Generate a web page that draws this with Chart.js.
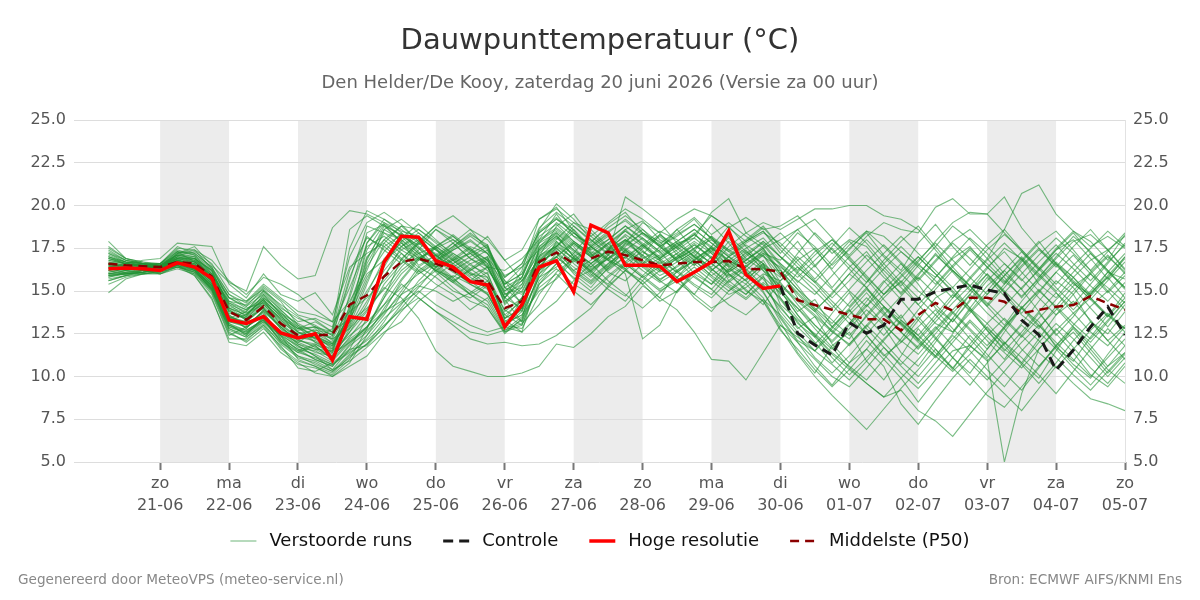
<!DOCTYPE html>
<html lang="nl">
<head>
<meta charset="utf-8">
<title>Dauwpunttemperatuur</title>
<script src="https://cdn.jsdelivr.net/npm/chart.js@4.4.1/dist/chart.umd.min.js"></script>
<style>
    html, body { margin: 0; padding: 0; background: #fff; }
    #wrap { width: 1200px; height: 600px; }
</style>
</head>
<body>
<div id="wrap"><canvas id="dewChart" width="1200" height="600"></canvas></div>
<script>
// tijdstappen in uren t.o.v. zo 21-06 00 uur (elke 6 uur, vanaf za 20-06 06 uur)
const stepHours = [];
for (let h = -18; h <= 336; h += 6) stepHours.push(h);

const dayTicks = [0, 24, 48, 72, 96, 120, 144, 168, 192, 216, 240, 264, 288, 312, 336];
const dayNames = ['zo', 'ma', 'di', 'wo', 'do', 'vr', 'za', 'zo', 'ma', 'di', 'wo', 'do', 'vr', 'za', 'zo'];
const dayDates = ['21-06', '22-06', '23-06', '24-06', '25-06', '26-06', '27-06', '28-06',
    '29-06', '30-06', '01-07', '02-07', '03-07', '04-07', '05-07'];
const shadedDays = [[0, 24], [48, 72], [96, 120], [144, 168], [192, 216], [240, 264], [288, 312]];

const yTicks = [5, 7.5, 10, 12.5, 15, 17.5, 20, 22.5, 25];

// hoge resolutie run (tot di 30-06 00 uur)
const hogeResolutie = [
    16.3, 16.35, 16.3, 16.2, 16.65, 16.4, 15.75, 13.3, 13.1, 13.5,
    12.55, 12.25, 12.5, 10.95, 13.5, 13.35, 16.7, 18.2, 18.15, 16.77,
    16.4, 15.55, 15.35, 12.9, 14.2, 16.4, 16.77, 14.95, 18.85, 18.4,
    16.5, 16.5, 16.45, 15.55, 16.1, 16.7, 18.5, 15.95, 15.15, 15.3
];

// controle run (vanaf di 30-06 00 uur)
const controleStart = 39;
const controle = [
    15.3, 12.53, 11.84, 11.26, 13.15, 12.53, 13.0, 14.52, 14.52, 14.96,
    15.16, 15.35, 15.06, 14.86, 13.3, 12.43, 10.38, 11.55, 12.9, 14.08, 12.43
];

// mediaan van de ensemble
const middelste = [
    16.6, 16.5, 16.45, 16.4, 16.7, 16.6, 15.85, 13.8, 13.3, 14.1,
    13.1, 12.4, 12.4, 12.45, 14.2, 14.75, 15.85, 16.7, 16.9, 16.6,
    16.23, 15.55, 15.6, 14.0, 14.4, 16.7, 17.25, 16.6, 16.9, 17.3,
    17.1, 16.8, 16.5, 16.6, 16.7, 16.7, 16.75, 16.3, 16.27, 16.13,
    14.47, 14.18, 13.9, 13.6, 13.35, 13.35, 12.7, 13.6, 14.3, 13.85,
    14.6, 14.6, 14.37, 13.7, 13.9, 14.08, 14.18, 14.7, 14.28, 13.9
];

// verstoorde runs
const verstoordeRuns = [
    [16.9,16.6,16.5,16.3,17.0,16.8,15.9, 14.2,13.5,14.8,13.6,12.3,12.8,11.9, 13.2,17.8,19.0,18.5,18.2,17.4,16.8,16.0,15.8, 13.4,14.0,
     17.5,18.2,17.0,17.6,18.3,17.2,16.4,16.9,17.8,17.0,18.2,16.5,15.9,16.8,
     15.2,13.8,14.5,12.9,12.2,13.6,14.8,15.5,14.2,13.1,12.6,14.0,15.3,16.2,15.1,13.8,12.4,13.5,14.9,15.8,14.6],
    [16.2,16.4,16.3,16.5,16.9,16.2,15.1, 13.0,12.6,13.4,12.0,11.4,11.8,11.0, 12.1,12.8,14.6,16.9,17.8,17.2,16.6,15.9,16.4, 14.5,13.2,
     16.2,17.9,16.8,15.9,17.1,18.0,17.4,16.2,15.8,16.9,17.5,15.6,14.8,15.9,
     13.5,12.1,11.5,12.8,13.9,12.4,11.2,12.0,13.3,14.6,15.2,14.0,12.8,11.9,13.1,14.4,15.6,14.8,13.2,12.5,13.8],
    [17.4,16.8,16.6,16.2,17.2,17.4,16.3, 14.8,14.1,15.2,14.4,13.0,12.2,12.8, 18.6,19.4,18.8,17.9,16.5,17.1,17.8,16.9,16.2, 15.0,15.8,
     18.4,19.2,18.6,17.3,16.8,17.6,18.4,17.9,16.7,17.3,18.9,17.8,16.6,17.2,
     16.8,17.9,16.5,15.2,16.4,17.3,16.0,14.8,15.9,17.2,16.1,15.0,16.3,17.5,16.9,15.4,14.6,15.8,16.8,17.4,16.2],
    [15.8,16.1,16.0,16.1,16.5,16.0,14.8, 12.4,12.9,13.6,12.6,11.8,11.2,10.4, 11.6,13.4,15.9,17.2,16.4,15.8,15.0,14.6,15.3, 13.1,13.6,
     15.8,16.4,17.2,16.1,15.4,16.6,17.3,16.8,15.5,14.8,16.2,17.0,16.1,15.2,
     14.1,12.8,13.5,11.9,10.8,11.6,12.9,11.4,10.6,12.0,13.4,12.2,11.1,12.6,14.0,13.2,11.7,10.9,12.3,13.6,12.8],
    [16.5,16.3,16.2,16.0,16.4,16.1,15.2, 13.6,12.8,13.9,12.9,12.0,12.6,12.2, 12.8,13.9,15.2,14.6,13.4,11.5,10.6,10.3,10.0, 10.0,10.2,
     10.6,11.9,11.7,12.5,13.5,14.1,15.3,14.6,16.2,15.4,14.8,16.0,15.1,14.2,
     15.6,16.8,17.5,16.2,15.0,14.1,15.5,16.6,15.4,14.0,13.2,14.5,15.8,14.7,13.6,12.8,14.1,15.3,16.0,15.2,14.3],
    [17.0,16.7,16.6,16.6,17.4,17.1,16.0, 14.6,14.0,14.3,13.4,12.8,13.2,12.6, 17.5,19.7,19.2,18.4,17.6,16.8,17.4,18.0,17.2, 15.6,14.9,
     17.0,18.8,19.5,18.2,17.4,18.6,19.1,18.0,17.5,18.3,19.4,18.7,17.9,18.5,
     17.2,18.4,17.6,16.5,17.4,18.5,18.2,17.3,16.5,15.8,16.9,17.6,16.4,15.5,16.8,17.9,16.6,15.4,14.8,16.1,15.7],
    [16.0,16.2,16.4,16.3,16.8,16.5,15.6, 13.2,13.0,13.8,12.2,11.6,11.0,10.6, 11.8,12.6,13.8,15.6,16.8,17.5,16.2,15.4,14.9, 12.9,13.8,
     16.6,17.4,16.2,16.8,17.8,16.6,15.8,16.4,17.2,16.0,15.4,16.8,16.2,15.0,
     13.2,11.4,10.2,11.8,12.6,10.9,9.8,11.2,12.8,11.6,10.4,11.9,13.1,12.0,10.8,9.9,11.5,12.9,11.8,10.6,11.4],
    [16.7,16.5,16.6,16.4,16.9,16.9,16.2, 14.0,13.6,14.6,13.8,12.6,12.0,11.4, 14.8,18.4,18.9,17.8,16.9,16.2,15.8,16.6,17.0, 14.2,15.2,
     17.8,18.4,17.6,16.4,17.5,18.2,16.9,17.4,18.6,17.4,16.6,17.9,17.2,16.3,
     16.2,15.1,13.9,14.8,16.0,15.2,13.8,12.6,13.9,15.1,16.2,15.3,14.1,13.0,14.4,15.6,16.6,15.8,14.6,13.5,14.9],
    [15.4,15.8,16.0,16.2,16.6,16.3,15.3, 13.4,13.2,14.0,12.8,11.9,11.4,11.2, 12.6,14.2,16.4,18.1,18.9,18.0,17.1,16.3,15.6, 13.6,13.0,
     15.4,16.6,17.8,17.1,16.3,17.4,18.1,17.3,16.2,16.8,17.6,16.4,15.6,16.6,
     14.6,13.1,12.3,13.7,14.9,13.5,12.4,13.6,12.1,11.2,12.5,13.9,12.7,11.6,10.8,12.2,13.6,14.4,13.3,12.1,13.0],
    [17.6,16.9,16.7,16.5,17.2,17.6,16.5, 15.5,15.0,17.6,16.5,15.7,15.9,18.7, 19.7,19.5,19.0,18.2,17.7,18.6,17.8,16.9,16.4, 16.2,16.9,
     18.0,19.5,18.2,17.8,18.9,19.6,18.4,17.7,18.6,19.3,18.3,19.0,18.2,17.5,
     18.0,18.6,17.4,16.3,17.5,18.4,17.1,16.2,17.8,18.9,17.6,16.5,17.7,18.6,17.4,16.3,17.5,18.5,17.9,16.8,18.3],
    [16.4,16.2,16.1,16.2,16.6,16.4,15.4, 13.1,12.4,13.2,12.4,11.0,10.6,10.2, 11.2,11.9,13.2,14.8,16.2,16.9,17.8,18.6,18.0, 16.8,17.4,
     19.2,19.9,18.5,17.2,16.4,17.8,19.0,18.4,17.1,16.5,17.6,18.8,17.6,16.4,
     15.0,13.6,12.4,11.4,10.6,9.8,11.0,12.2,13.5,12.3,11.1,10.2,11.6,12.9,14.1,13.0,11.8,10.7,9.9,11.3,12.6],
    [16.1,16.3,16.3,16.5,17.3,16.7,15.8, 13.8,13.4,14.4,13.3,12.6,12.3,11.7, 13.6,15.8,17.3,18.4,17.3,16.1,15.2,14.4,14.0, 12.6,13.3,
     17.6,18.3,17.0,16.3,16.9,16.2,17.1,18.3,17.6,16.8,15.9,16.6,17.4,16.2,
     14.8,16.1,15.3,14.2,13.1,14.4,15.6,14.5,13.3,12.2,13.4,14.8,16.0,14.9,13.7,14.9,16.1,15.2,14.0,12.9,14.2],
    [16.8,16.6,16.4,16.6,17.6,17.2,16.4, 14.4,14.2,15.0,14.0,13.4,13.0,12.4, 15.8,18.2,17.4,16.6,17.8,18.8,19.4,18.6,17.4, 15.4,16.0,
     18.6,20.1,19.2,18.0,17.2,20.5,19.8,19.0,17.8,18.1,19.6,20.4,18.4,19.0,
     18.6,19.2,19.8,19.8,20.0,20.0,19.4,19.2,18.6,17.4,16.2,15.3,16.4,17.3,16.1,15.0,16.1,17.1,16.0,14.9,15.9],
    [15.6,15.9,16.2,16.4,16.5,15.9,14.5, 12.2,12.2,12.9,11.6,10.8,10.2,10.0, 10.8,12.4,14.0,15.4,14.6,13.8,13.2,12.6,12.4, 12.7,13.1,
     14.2,15.8,17.0,16.0,15.1,14.4,15.6,16.7,15.8,14.6,13.8,15.0,16.0,14.9,
     13.4,12.0,10.6,9.5,10.8,12.1,11.0,9.9,8.5,9.8,11.1,12.4,11.3,10.2,9.2,10.5,11.8,12.8,11.6,10.4,9.6],
    [17.2,16.7,16.5,16.4,17.1,17.3,16.6, 15.0,14.4,15.4,14.6,13.8,13.6,13.2, 14.4,16.2,18.6,19.2,18.4,17.5,16.6,17.3,18.2, 16.8,15.6,
     17.2,18.0,19.0,18.6,17.6,16.9,17.7,18.5,18.0,17.0,16.4,17.6,18.4,17.7,
     16.5,15.3,14.0,13.1,14.3,15.5,16.8,17.9,18.8,17.6,16.4,15.3,14.2,15.4,16.7,17.8,18.5,17.4,16.2,15.0,16.1],
    [16.3,16.4,16.4,16.2,16.7,16.6,15.5, 13.5,13.1,13.7,12.5,12.0,11.6,11.5, 12.4,13.2,14.2,15.2,16.0,16.6,15.8,14.8,15.4, 13.3,12.6,
     16.0,16.8,15.7,16.2,17.1,16.3,15.4,16.2,16.9,17.4,16.6,15.8,16.4,17.2,
     16.3,14.6,13.8,12.6,11.9,13.0,14.1,13.3,12.4,13.6,14.8,13.9,12.7,11.5,12.6,13.8,14.9,13.7,12.6,11.8,12.9],
    [14.9,15.7,16.0,16.0,16.3,16.0,15.0, 12.8,12.4,13.5,12.3,11.6,11.3,10.8, 14.2,17.0,18.0,17.2,16.2,15.4,14.8,13.9,14.6, 12.8,14.6,
     16.8,17.2,16.0,15.2,16.4,17.3,16.5,15.6,14.9,16.1,17.0,16.0,15.0,14.4,
     13.0,12.0,11.0,10.0,9.4,10.5,11.7,10.6,9.6,10.8,12.0,13.2,12.1,11.0,12.4,13.7,12.5,11.4,10.1,9.4,10.6],
    [16.6,16.4,16.3,16.3,16.8,16.5,15.7, 13.9,13.3,14.2,13.2,12.5,12.7,12.5, 13.8,14.6,15.6,16.8,17.9,18.8,18.2,17.3,16.6, 14.8,15.4,
     17.9,18.6,17.8,17.0,17.8,18.6,17.7,16.9,17.6,18.4,17.2,16.2,17.0,17.9,
     17.0,16.2,17.3,18.0,16.9,15.7,14.5,13.4,14.6,15.8,17.0,18.1,17.2,16.0,15.1,16.3,17.4,18.0,16.9,15.7,17.0],
    [17.9,16.9,16.6,16.5,17.1,17.0,15.6, 13.4,13.8,15.0,14.2,13.5,12.9,12.6, 13.4,16.8,18.8,18.3,17.5,16.4,16.8,17.5,16.8, 14.9,13.8,
     15.8,17.0,17.9,17.2,16.1,15.6,16.6,17.6,16.8,15.8,15.1,16.2,17.3,16.6,
     14.2,13.3,12.5,11.6,12.8,13.9,13.0,12.1,11.3,12.5,13.7,14.8,13.7,12.8,11.6,10.6,11.8,13.0,14.1,15.0,13.9],
    [16.0,16.0,16.2,16.4,16.6,16.2,15.0, 12.6,12.0,12.8,11.8,10.5,10.3,10.8, 11.6,11.8,12.9,14.2,15.6,16.6,17.4,17.9,17.2, 15.9,16.4,
     17.4,18.4,17.4,16.6,17.4,18.0,17.0,16.2,16.9,17.7,17.0,16.0,15.4,16.4,
     15.1,14.0,12.8,11.7,10.5,9.6,8.8,9.9,11.0,12.2,11.1,10.0,8.9,8.2,9.4,10.6,11.7,12.6,11.4,10.2,11.3],
    [16.4,16.6,16.8,16.9,17.8,17.7,17.6, 15.4,14.6,16.0,14.8,14.4,14.9,13.6, 16.4,17.2,17.8,16.9,16.1,16.8,17.6,18.4,17.6, 15.2,14.8,
     16.4,17.6,18.8,18.0,17.1,17.9,18.6,17.6,16.8,17.5,18.2,17.4,16.8,17.6,
     18.4,17.4,16.4,17.6,18.7,17.8,16.6,15.5,16.7,17.9,19.0,19.6,19.5,18.4,17.3,16.2,17.4,18.4,17.2,16.1,17.2],
    [15.9,16.1,16.3,16.4,16.8,16.3,15.2, 13.0,12.7,13.3,12.1,11.5,11.9,11.3, 12.0,12.7,13.7,14.8,15.4,16.2,16.8,16.0,15.2, 13.0,12.8,
     14.8,16.1,16.9,16.2,15.3,14.7,15.9,16.8,16.1,15.3,14.6,15.6,16.5,15.7,
     14.5,13.2,12.0,10.8,11.9,13.0,12.0,10.9,10.0,11.2,12.4,11.5,10.4,9.4,10.7,12.0,13.1,12.2,11.1,10.0,11.1],
    [17.0,16.6,16.4,16.2,16.9,16.7,15.9, 14.4,13.9,14.9,13.9,12.9,12.4,11.8, 13.0,15.4,17.8,18.8,18.6,17.8,17.0,16.2,16.9, 15.8,16.6,
     18.7,19.6,18.8,17.9,18.7,19.4,18.6,17.8,18.4,19.2,18.0,17.1,17.9,18.7,
     17.6,18.6,19.2,18.1,17.0,15.9,14.8,15.9,17.0,16.0,14.9,13.8,15.0,16.2,17.3,16.3,15.2,14.2,15.4,16.6,17.8],
    [16.2,16.0,16.1,16.3,16.6,16.4,15.6, 13.5,12.8,13.9,12.8,12.2,11.7,11.2, 12.2,12.9,13.8,14.4,15.3,15.0,14.4,14.9,15.6, 13.9,13.2,
     15.4,16.3,15.4,14.8,15.8,16.6,15.8,15.0,15.6,16.4,15.6,14.8,15.2,16.0,
     15.6,16.4,15.5,14.4,13.4,12.5,13.6,14.7,15.8,14.8,13.7,12.7,11.6,12.8,14.0,15.1,14.0,12.9,12.0,13.2,14.4],
    [16.9,16.7,16.6,16.5,16.9,16.6,15.5, 13.3,13.6,14.5,13.0,12.3,12.4,11.6, 13.8,17.4,18.9,18.2,17.2,17.6,18.3,17.5,16.4, 14.4,15.0,
     17.1,17.6,18.6,17.6,16.8,16.3,17.5,18.2,17.3,16.5,17.3,18.1,16.9,16.2,
     15.3,14.4,13.5,12.6,13.8,14.9,13.7,12.6,11.6,12.8,13.9,15.0,16.0,15.0,14.0,12.9,13.9,15.0,16.1,17.1,16.0],
    [16.1,16.3,16.2,16.0,16.5,16.3,15.3, 13.0,12.5,13.4,12.4,11.8,11.2,10.7, 11.4,12.1,13.0,13.9,14.6,13.8,13.0,12.2,11.9, 12.0,11.8,
     11.9,12.4,13.2,14.0,15.3,16.2,15.6,14.6,13.9,12.6,11.0,10.9,9.8,11.4,
     13.0,12.3,11.5,10.7,9.8,10.9,12.1,13.3,12.4,11.4,10.5,11.7,12.9,11.8,10.7,9.6,10.8,12.1,13.2,12.1,11.0],
    [17.3,16.8,16.6,16.6,17.5,17.4,16.8, 15.6,14.8,15.8,15.4,14.8,13.9,13.2, 17.0,19.0,19.6,18.9,17.9,17.1,16.2,15.6,16.4, 14.6,16.2,
     19.2,19.8,19.0,18.2,19.0,19.8,19.2,18.4,19.2,19.8,19.4,18.7,19.3,18.6,
     18.8,19.4,18.3,17.2,18.0,17.6,16.4,15.3,16.5,17.6,18.8,18.0,16.9,15.8,14.6,15.8,17.0,18.2,17.3,16.2,15.1],
    [15.8,16.0,16.1,16.3,16.4,16.2,15.3, 12.9,12.6,13.2,12.1,11.2,10.9,10.4, 10.9,11.7,12.6,13.2,14.4,15.2,15.9,15.4,14.8, 13.1,13.6,
     15.0,15.7,16.8,17.6,16.8,16.0,12.2,13.0,15.0,16.2,15.4,16.3,15.6,14.6,
     12.8,11.3,10.0,8.9,7.9,6.9,8.1,9.3,10.4,11.6,10.5,9.5,10.8,12.0,11.1,10.1,9.0,10.3,11.6,12.8,11.8],
    [16.5,16.5,16.4,16.4,16.9,16.8,16.0, 14.2,13.8,14.7,13.7,13.1,12.6,12.2, 14.0,16.0,16.8,17.6,18.4,17.6,16.8,17.2,17.7, 15.2,14.3,
     16.6,17.8,17.2,18.4,17.5,16.7,17.6,18.3,17.5,16.6,17.4,18.2,17.3,16.6,
     15.8,17.2,18.4,17.4,16.3,15.2,14.1,13.1,12.2,13.4,14.6,15.8,16.9,18.6,20.7,21.2,19.5,18.5,17.6,18.2,17.5],
    [16.0,16.1,16.2,16.1,16.4,15.9,14.6, 12.0,11.8,12.6,11.4,10.7,10.5,10.1, 11.0,12.8,14.8,16.2,17.0,16.4,15.6,14.8,14.0, 12.5,13.4,
     15.2,16.0,15.0,14.2,15.2,16.2,15.4,14.4,15.0,15.9,15.1,14.2,13.6,14.5,
     13.6,12.4,11.1,10.2,11.2,12.4,11.3,10.2,9.3,10.4,11.5,11.8,11.0,5.0,9.0,11.6,12.8,11.7,10.5,9.6,10.8],
    [16.6,16.3,16.4,16.5,17.0,16.7,15.8, 13.7,13.4,14.0,12.9,12.1,11.8,11.0, 12.8,14.4,16.2,17.4,18.0,17.1,16.2,16.8,17.4, 15.6,14.2,
     16.4,17.5,16.7,17.5,18.2,17.4,16.6,17.1,17.8,17.0,16.2,17.0,17.7,17.0,
     16.4,15.6,14.8,15.9,17.0,18.0,17.0,16.0,15.0,14.2,13.2,14.4,15.6,16.6,15.7,14.6,13.6,14.8,16.0,17.0,16.1],
    [16.8,16.6,16.5,16.4,17.0,16.9,16.1, 14.3,13.7,14.5,13.5,12.7,12.9,12.1, 13.4,15.0,16.6,17.9,18.6,17.9,17.2,16.5,16.0, 13.8,14.6,
     17.3,18.1,17.3,16.6,17.4,18.3,17.6,16.8,17.4,18.1,17.3,16.5,17.2,17.9,
     17.0,16.1,17.1,18.0,17.1,18.2,19.0,18.6,18.4,19.9,20.4,19.5,19.5,20.5,18.7,17.5,16.4,17.6,18.6,17.4,16.3],
    [15.6,15.9,16.0,16.1,16.4,16.1,15.1, 12.7,12.3,13.1,11.9,11.1,10.8,10.3, 11.3,12.2,13.4,14.3,15.0,14.2,13.6,13.0,12.6, 12.9,12.6,
     13.6,14.4,15.6,16.6,15.6,14.8,14.0,14.9,15.8,14.8,14.0,14.6,15.4,14.4,
     12.7,11.6,10.4,9.4,10.4,11.6,10.6,8.4,7.2,8.6,9.9,11.0,10.0,9.0,8.0,9.3,10.6,9.6,8.7,8.4,8.0],
    [16.3,16.2,16.3,16.2,16.6,16.4,15.4, 13.2,12.9,13.6,12.5,11.7,11.5,10.9, 12.0,12.9,14.6,16.0,16.9,17.6,16.9,16.1,15.4, 13.4,14.0,
     16.5,17.0,16.2,15.5,16.5,17.4,16.6,15.7,16.2,17.0,16.1,15.3,14.6,15.5,
     14.6,13.4,12.4,11.3,10.4,9.6,8.8,9.2,8.0,7.4,6.5,7.8,9.1,10.3,11.5,12.6,11.6,10.5,9.5,10.6,11.8],
    [17.1,16.7,16.5,16.3,17.2,17.0,16.2, 14.6,14.4,15.1,14.1,13.2,13.4,12.9, 15.2,17.6,18.2,17.4,16.8,17.6,18.2,17.4,16.6, 14.6,15.8,
     18.2,18.9,17.9,17.2,18.0,18.8,18.1,17.3,17.9,18.6,17.8,17.0,17.8,18.4,
     17.8,16.8,15.7,16.8,17.9,16.9,15.8,14.9,16.0,17.1,16.2,15.1,14.1,15.2,16.4,17.4,16.5,15.5,14.5,15.6,16.7],
    [16.0,16.2,16.3,16.5,16.7,16.3,15.3, 13.3,12.9,13.5,12.7,11.9,11.6,11.1, 12.3,13.6,15.4,16.6,17.2,16.5,15.7,15.0,14.4, 12.7,13.5,
     16.0,17.2,16.4,15.6,16.6,17.3,16.4,15.6,16.5,17.2,16.3,15.5,16.3,15.3,
     14.0,12.9,11.9,12.9,13.9,12.8,11.7,10.7,11.8,12.9,11.8,10.8,9.8,10.9,12.0,13.0,12.0,11.0,10.0,11.1,12.2],
    [16.7,16.6,16.4,16.2,16.7,16.5,15.7, 13.8,13.5,14.4,13.6,12.9,12.0,11.6, 13.1,16.6,18.4,18.0,17.0,16.2,15.5,16.3,17.0, 14.8,15.2,
     17.0,17.6,18.4,17.6,16.9,17.7,18.4,17.7,16.9,17.5,18.0,17.3,16.6,17.3,
     16.6,15.5,16.5,17.5,16.5,15.5,16.6,17.6,16.6,15.6,14.6,15.7,16.8,17.8,16.8,15.8,16.9,17.9,18.3,17.4,18.2],
    [15.9,16.0,16.1,16.2,16.5,16.1,14.9, 12.5,12.1,13.0,11.7,10.9,10.6,10.0, 10.6,11.2,12.5,13.8,14.9,15.9,16.6,17.2,16.4, 14.6,15.6,
     16.8,17.5,16.6,15.8,16.6,17.4,16.7,15.9,16.4,17.1,16.3,15.4,14.8,15.8,
     14.9,14.0,13.0,12.1,13.1,14.2,13.1,12.0,12.9,13.9,12.8,11.8,10.9,11.9,13.0,12.1,11.1,10.1,9.2,10.3,11.4],
    [16.4,16.5,16.5,16.6,17.1,16.9,16.2, 14.1,13.7,14.2,13.3,12.4,12.5,12.0, 13.2,14.0,15.1,16.4,17.4,18.6,18.0,17.4,16.8, 15.4,16.0,
     17.8,19.0,18.2,17.4,18.0,18.8,18.0,17.2,17.9,18.6,17.8,17.0,16.4,17.4,
     16.0,14.8,13.8,14.9,16.0,17.1,16.2,15.2,14.2,15.3,16.4,17.4,16.4,15.4,16.5,17.5,16.6,15.6,14.7,15.8,16.9],
    [17.5,16.9,16.7,16.6,17.3,17.2,16.4, 14.8,14.3,15.3,14.5,13.6,13.3,12.6, 16.2,18.1,17.6,16.8,16.0,16.7,17.5,18.2,17.5, 15.8,16.6,
     18.4,19.2,18.4,17.6,18.4,19.2,18.4,17.6,18.2,18.9,18.1,17.4,18.0,18.8,
     17.6,16.6,15.6,14.6,15.6,16.7,17.7,16.7,15.7,16.8,17.9,18.6,17.6,16.6,15.6,16.7,17.7,16.6,15.6,16.7,17.7],
    [16.2,16.3,16.2,16.3,16.7,16.5,15.4, 13.6,13.0,13.8,12.9,12.1,11.9,11.4, 12.6,13.8,15.8,17.6,18.2,17.4,16.5,15.8,15.1, 13.2,13.9,
     16.8,17.7,16.9,16.1,16.9,17.8,17.1,16.3,17.0,17.8,16.9,16.1,16.8,17.5,
     16.2,15.1,14.2,13.3,12.4,13.5,14.6,15.6,14.6,13.6,12.6,13.7,14.8,15.9,16.9,15.9,14.9,13.9,15.0,16.1,15.2],
    [16.6,16.4,16.3,16.4,16.8,16.7,15.9, 14.0,13.4,14.3,13.4,12.6,12.2,11.8, 13.6,16.9,18.6,18.0,17.2,16.4,16.9,17.6,17.2, 15.0,15.6,
     17.6,18.5,17.7,17.0,17.7,18.5,17.8,17.0,17.7,18.3,17.6,16.8,16.2,17.1,
     15.5,14.2,13.0,12.0,13.0,14.1,15.1,16.1,17.0,16.0,15.0,14.0,13.1,14.1,15.2,16.2,17.2,16.3,15.3,14.4,15.5],
    [15.7,15.9,16.1,16.2,16.5,16.2,15.1, 12.9,12.5,13.3,12.2,11.4,11.1,10.7, 11.5,12.4,13.6,15.0,16.4,17.1,16.4,15.6,14.8, 13.0,14.0,
     16.2,17.0,16.1,15.4,16.3,17.0,16.2,15.5,16.1,16.8,15.9,15.2,14.5,15.4,
     13.8,12.6,11.5,12.5,13.6,14.6,13.6,12.6,11.7,12.7,13.8,12.8,11.8,12.9,14.0,15.0,14.1,13.1,12.2,13.3,14.4],
    [17.2,16.8,16.6,16.4,17.3,17.1,16.3, 14.6,14.1,14.8,13.9,13.0,12.6,12.3, 14.6,17.8,19.2,18.6,17.8,17.0,17.6,18.3,17.7, 15.4,16.4,
     18.5,19.3,18.4,17.7,18.5,19.1,18.3,17.6,18.3,18.9,18.1,17.3,17.9,18.5,
     17.4,16.4,15.5,16.6,17.7,18.5,17.6,16.6,15.6,16.7,17.8,16.9,15.9,14.9,16.0,17.1,18.1,17.2,16.2,17.3,18.4],
    [16.3,16.1,16.2,16.4,16.6,16.3,15.2, 13.1,12.7,13.3,12.4,11.5,11.0,10.6, 11.9,12.9,14.2,15.7,16.9,16.2,15.5,14.8,14.2, 12.6,13.0,
     15.6,16.6,15.8,15.0,15.9,16.7,15.9,15.1,15.8,16.6,15.8,15.0,15.7,16.5,
     15.0,13.6,12.3,11.1,10.1,11.1,12.2,13.2,12.2,11.2,10.3,11.3,12.4,13.4,12.4,11.4,10.5,11.6,12.7,13.7,12.8],
    [16.9,16.6,16.5,16.5,17.0,16.8,15.9, 14.0,13.6,14.5,13.5,12.8,12.9,12.4, 15.6,18.8,18.4,17.6,16.9,17.5,18.0,17.2,16.5, 14.3,15.4,
     17.4,18.2,17.4,16.6,17.3,18.0,17.3,16.6,17.2,17.9,17.2,16.4,17.1,17.8,
     16.6,15.8,16.8,17.8,16.8,15.8,14.8,15.8,16.8,17.8,16.8,15.8,14.8,15.9,17.0,16.0,15.0,16.1,17.2,16.2,15.2],
    [15.9,16.0,16.1,16.3,16.6,16.2,15.1, 12.8,12.3,13.0,12.0,11.2,10.7,10.3, 11.1,11.9,12.9,14.0,15.2,16.4,17.2,16.6,15.8, 13.6,14.4,
     16.2,17.0,17.8,17.0,16.2,17.0,17.7,16.9,16.1,16.8,17.5,16.7,15.9,16.6,
     15.4,14.5,13.6,12.7,11.8,12.9,14.0,13.0,12.0,11.1,12.2,13.3,12.3,11.4,10.5,11.6,12.7,13.7,14.6,13.6,12.6],
    [16.6,16.5,16.3,16.2,16.8,16.6,15.6, 13.5,13.2,14.1,13.1,12.3,12.1,11.5, 12.9,14.8,16.9,17.8,17.1,16.3,15.6,16.2,16.8, 14.6,14.0,
     16.9,17.6,16.9,16.2,16.9,17.5,16.8,16.1,16.7,17.3,16.6,15.9,16.5,17.1,
     15.9,17.0,16.1,15.1,14.1,15.2,16.3,17.3,16.4,15.4,16.5,17.5,16.6,15.6,14.7,15.7,16.7,15.8,14.8,15.9,17.0],
    [16.4,16.4,16.5,16.3,16.9,16.7,15.7, 13.9,13.3,14.0,13.0,12.2,12.3,11.9, 13.3,15.6,17.6,18.3,17.5,16.8,16.1,15.5,16.1, 13.4,14.6,
     17.0,17.9,17.1,16.4,17.2,17.9,17.1,16.4,17.0,17.7,16.9,16.1,16.8,17.5,
     16.0,14.9,13.9,12.9,14.0,15.1,14.1,13.1,12.1,13.2,14.3,15.3,14.3,13.3,12.3,13.4,14.5,15.5,14.5,13.5,14.6],
    [17.0,16.7,16.6,16.5,17.1,16.9,16.0, 14.3,13.9,14.6,13.7,12.8,12.4,11.9, 13.9,16.4,18.0,18.8,17.9,17.1,16.4,17.0,17.6, 15.2,15.8,
     18.0,18.7,17.9,17.1,17.8,18.5,17.7,16.9,17.6,18.3,17.5,16.8,17.5,18.1,
     17.0,16.0,15.0,14.0,15.1,16.2,17.2,18.2,17.2,16.2,15.2,16.3,17.4,18.3,17.4,16.4,15.4,16.5,17.5,18.5,17.6]
];

// lijnstijlen (gedeeld door lijnen en legenda)
const styleRuns = { color: 'rgba(34, 145, 52, 0.6)', width: 1.1, dash: [] };
const styleControle = { color: '#1a1a1a', width: 3, dash: [10, 6] };
const styleHoog = { color: '#ff0000', width: 3.5, dash: [] };
const styleP50 = { color: '#8b0000', width: 2.5, dash: [9, 6] };

const legendItems = [
    { text: 'Verstoorde runs', style: styleRuns },
    { text: 'Controle', style: styleControle },
    { text: 'Hoge resolutie', style: styleHoog },
    { text: 'Middelste (P50)', style: styleP50 }
];

function toPoints(values, offset) {
    return values.map((v, i) => ({ x: stepHours[offset + i], y: v }));
}

function lineSet(label, values, offset, style) {
    return {
        label: label,
        data: toPoints(values, offset),
        borderColor: style.color,
        backgroundColor: style.color,
        borderWidth: style.width,
        borderDash: style.dash,
        pointRadius: 0,
        pointHoverRadius: 0,
        fill: false,
        tension: 0
    };
}

Chart.defaults.font.family = "'DejaVu Sans', sans-serif";

// grijze banden voor afwisselende dagen
const dayBands = {
    id: 'dayBands',
    beforeDraw(chart) {
        const { ctx, chartArea, scales } = chart;
        ctx.save();
        ctx.fillStyle = '#ececec';
        shadedDays.forEach(([from, to]) => {
            const x0 = scales.x.getPixelForValue(from);
            const x1 = scales.x.getPixelForValue(to);
            ctx.fillRect(x0, chartArea.top, x1 - x0, chartArea.bottom - chartArea.top);
        });
        ctx.restore();
    }
};

// titel, ondertitel, legenda en voetregels
const headerFooter = {
    id: 'headerFooter',
    afterDraw(chart) {
        const ctx = chart.ctx;
        ctx.save();
        ctx.textBaseline = 'middle';

        ctx.textAlign = 'center';
        ctx.fillStyle = '#333';
        ctx.font = "29px 'DejaVu Sans'";
        ctx.fillText('Dauwpunttemperatuur (°C)', 600, 41);

        ctx.fillStyle = '#666';
        ctx.font = "18px 'DejaVu Sans'";
        ctx.fillText('Den Helder/De Kooy, zaterdag 20 juni 2026 (Versie za 00 uur)', 600, 83);

        // legenda
        ctx.font = "18px 'DejaVu Sans'";
        ctx.textAlign = 'left';
        const sample = 26, textGap = 13, itemGap = 31, legendY = 541;
        const widths = legendItems.map(item => ctx.measureText(item.text).width);
        let total = itemGap * (legendItems.length - 1);
        widths.forEach(w => { total += sample + textGap + w; });
        let x = 600 - total / 2;
        legendItems.forEach((item, i) => {
            ctx.beginPath();
            ctx.strokeStyle = item.style.color;
            ctx.lineWidth = item.style.width;
            ctx.setLineDash(item.style.dash);
            ctx.moveTo(x, legendY);
            ctx.lineTo(x + sample, legendY);
            ctx.stroke();
            ctx.setLineDash([]);
            ctx.fillStyle = '#111';
            ctx.fillText(item.text, x + sample + textGap, legendY);
            x += sample + textGap + widths[i] + itemGap;
        });

        ctx.fillStyle = '#888';
        ctx.font = "13.6px 'DejaVu Sans'";
        ctx.textAlign = 'left';
        ctx.fillText('Gegenereerd door MeteoVPS (meteo-service.nl)', 18, 580);
        ctx.textAlign = 'right';
        ctx.fillText('Bron: ECMWF AIFS/KNMI Ens', 1182, 580);
        ctx.restore();
    }
};

const datasets = [
    lineSet('Hoge resolutie', hogeResolutie, 0, styleHoog),
    lineSet('Controle', controle, controleStart, styleControle),
    lineSet('Middelste (P50)', middelste, 0, styleP50),
    ...verstoordeRuns.map((run, k) => lineSet(k === 0 ? 'Verstoorde runs' : '', run, 0, styleRuns))
];

new Chart(document.getElementById('dewChart'), {
    type: 'line',
    data: { datasets: datasets },
    options: {
        responsive: false,
        animation: false,
        devicePixelRatio: 1,
        layout: {
            padding: { top: 120, left: 0, right: 0, bottom: 84 }
        },
        plugins: {
            title: { display: false },
            tooltip: { enabled: false },
            legend: { display: false }
        },
        scales: {
            x: {
                type: 'linear',
                min: -30,
                max: 336,
                afterBuildTicks: (scale) => {
                    scale.ticks = dayTicks.map(v => ({ value: v }));
                },
                afterFit: (scale) => { scale.height = 54; },
                grid: {
                    drawOnChartArea: false,
                    drawTicks: true,
                    tickLength: 8,
                    tickColor: '#777',
                    tickWidth: 2
                },
                border: { display: false },
                ticks: {
                    autoSkip: false,
                    maxRotation: 0,
                    padding: 3,
                    color: '#555',
                    font: { size: 16, lineHeight: 1.375 },
                    callback: (value) => {
                        const k = dayTicks.indexOf(value);
                        return k < 0 ? '' : [dayNames[k], dayDates[k]];
                    }
                }
            },
            y: {
                position: 'left',
                min: 5,
                max: 25,
                afterBuildTicks: (scale) => {
                    scale.ticks = yTicks.map(v => ({ value: v }));
                },
                afterFit: (scale) => { scale.width = 74; },
                grid: { color: '#dddddd', drawTicks: false },
                border: { display: false },
                ticks: {
                    padding: 8,
                    color: '#555',
                    font: { size: 16 },
                    callback: (value) => value.toFixed(1)
                }
            },
            y2: {
                position: 'right',
                min: 5,
                max: 25,
                afterBuildTicks: (scale) => {
                    scale.ticks = yTicks.map(v => ({ value: v }));
                },
                afterFit: (scale) => { scale.width = 75; },
                grid: { drawOnChartArea: false, drawTicks: false },
                border: { display: true, color: '#e2e2e2' },
                ticks: {
                    padding: 8,
                    color: '#555',
                    font: { size: 16 },
                    callback: (value) => value.toFixed(1)
                }
            }
        }
    },
    plugins: [dayBands, headerFooter]
});
</script>
</body>
</html>
